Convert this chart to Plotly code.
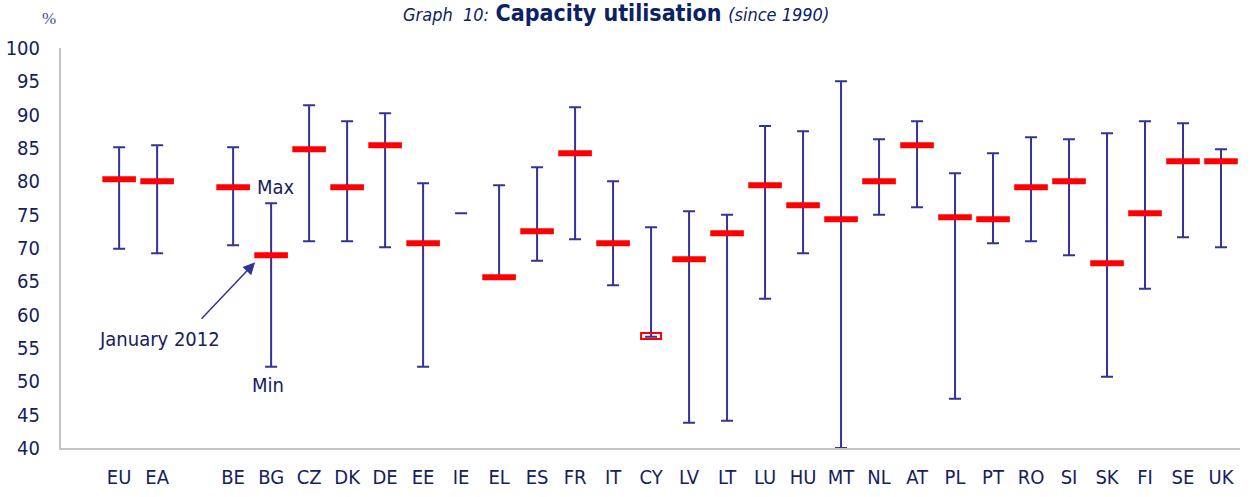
import plotly.graph_objects as go

categories = ["EU", "EA", " ", "BE", "BG", "CZ", "DK", "DE", "EE", "IE", "EL", "ES", "FR", "IT", "CY",
              "LV", "LT", "LU", "HU", "MT", "NL", "AT", "PL", "PT", "RO", "SI", "SK", "FI", "SE", "UK"]
max_vals = [85.1, 85.4, None, 85.1, 76.7, 91.4, 89.0, 90.2, 79.7, 75.2, 79.4, 82.1, 91.1, 80.0, 73.1,
            75.5, 75.0, 88.3, 87.5, 95.0, 86.3, 89.0, 81.2, 84.2, 86.6, 86.3, 87.2, 89.0, 88.7, 84.8]
min_vals = [69.9, 69.2, None, 70.4, 52.2, 71.0, 71.0, 70.1, 52.2, 75.2, 65.6, 68.1, 71.3, 64.4, 56.7,
            43.8, 44.1, 62.4, 69.2, 40.0, 75.0, 76.1, 47.4, 70.7, 71.0, 68.9, 50.7, 63.9, 71.6, 70.1]
jan_2012 = [80.3, 80.0, None, 79.1, 68.9, 84.8, 79.1, 85.4, 70.7, None, 65.6, 72.5, 84.2, 70.7, 56.8,
            68.3, 72.2, 79.4, 76.4, 74.3, 80.0, 85.4, 74.6, 74.3, 79.1, 80.0, 67.7, 75.2, 83.0, 83.0]
hollow_markers = ["CY"]
y_ticks = list(range(40, 101, 5))

NAVY = "#14215e"
BLUE = "#333399"
RED = "#ff0000"
FONT = "Liberation Sans Narrow, DejaVu Sans Condensed, Liberation Sans, Arial, sans-serif"
FS = 20

mid = [None if a is None else (a + b) / 2 for a, b in zip(max_vals, min_vals)]
half = [None if a is None else (a - b) / 2 for a, b in zip(max_vals, min_vals)]

fig = go.Figure()
fig.add_trace(go.Scatter(
    x=categories, y=mid, mode="markers",
    marker=dict(size=1, opacity=0),
    error_y=dict(type="data", array=half, symmetric=True, color=BLUE, thickness=2, width=6),
    showlegend=False, hoverinfo="skip", cliponaxis=False,
))
solid_y = [None if c in hollow_markers else v for c, v in zip(categories, jan_2012)]
fig.add_trace(go.Scatter(
    x=categories, y=solid_y, mode="markers",
    marker=dict(symbol="line-ew", size=24, line=dict(color=RED, width=6)),
    showlegend=False,
))

shapes = []
for c, v in zip(categories, jan_2012):
    if c in hollow_markers:
        shapes.append(dict(type="rect", xref="x", yref="y", xsizemode="pixel", ysizemode="pixel",
                           xanchor=c, yanchor=v, x0=-10, x1=10, y0=-3, y1=3,
                           line=dict(color=RED, width=2), fillcolor="rgba(0,0,0,0)", layer="above"))

fig.update_layout(
    width=1252, height=497,
    margin=dict(l=61, r=12, t=48, b=49),
    paper_bgcolor="white", plot_bgcolor="white",
    font=dict(family=FONT, color=NAVY, size=FS),
    shapes=shapes,
    xaxis=dict(type="category", categoryorder="array", categoryarray=categories,
               range=[-1.53, 29.5], showgrid=False, zeroline=False, automargin=False,
               showline=True, linecolor="#c4c4c4", linewidth=2,
               ticks="", ticklabelstandoff=10, tickfont=dict(size=FS, color=NAVY, family=FONT)),
    yaxis=dict(range=[40, 100], tickvals=y_ticks, showgrid=False, zeroline=False, automargin=False,
               showline=True, linecolor="#c4c4c4", linewidth=2,
               ticks="", ticklabelstandoff=15, tickfont=dict(size=FS, color=NAVY, family=FONT)),
    annotations=[
        dict(xref="paper", yref="paper", x=0.4705, y=1.0875, xanchor="center", yanchor="middle",
             showarrow=False,
             text="<span style='font-size:18px'><i>Graph  10:</i></span> <b>Capacity utilisation</b> "
                  "<span style='font-size:18px'><i>(since 1990)</i></span>",
             font=dict(size=23, color="#0b2265", family=FONT)),
        dict(xref="paper", yref="paper", x=-0.01, y=1.075, xanchor="center", yanchor="middle",
             showarrow=False, text="%", font=dict(size=17, color="#4848a8", family="Liberation Serif")),
        dict(xref="x", yref="y", x="BG", y=79.2, xanchor="left", yanchor="middle", xshift=-16,
             showarrow=False, text="Max", font=dict(size=FS, color=NAVY)),
        dict(xref="x", yref="y", x="BG", y=49.5, xanchor="center", yanchor="middle", xshift=-3,
             showarrow=False, text="Min", font=dict(size=FS, color=NAVY)),
        dict(xref="x", yref="y", x="BG", y=jan_2012[categories.index("BG")],
             ax=-55, ay=58, xshift=-16, yshift=-7,
             showarrow=True, arrowhead=2, arrowsize=1.6, arrowwidth=1.5, arrowcolor=BLUE,
             text="", standoff=0),
        dict(xref="x", yref="y", x="EU", y=56.3, xanchor="center", yanchor="middle", xshift=40,
             showarrow=False, text="January 2012", font=dict(size=FS, color=NAVY)),
    ],
)

fig.write_html("out.html", config={"displayModeBar": False},
               post_script="document.body.style.margin='0';document.body.style.overflow='hidden';")
